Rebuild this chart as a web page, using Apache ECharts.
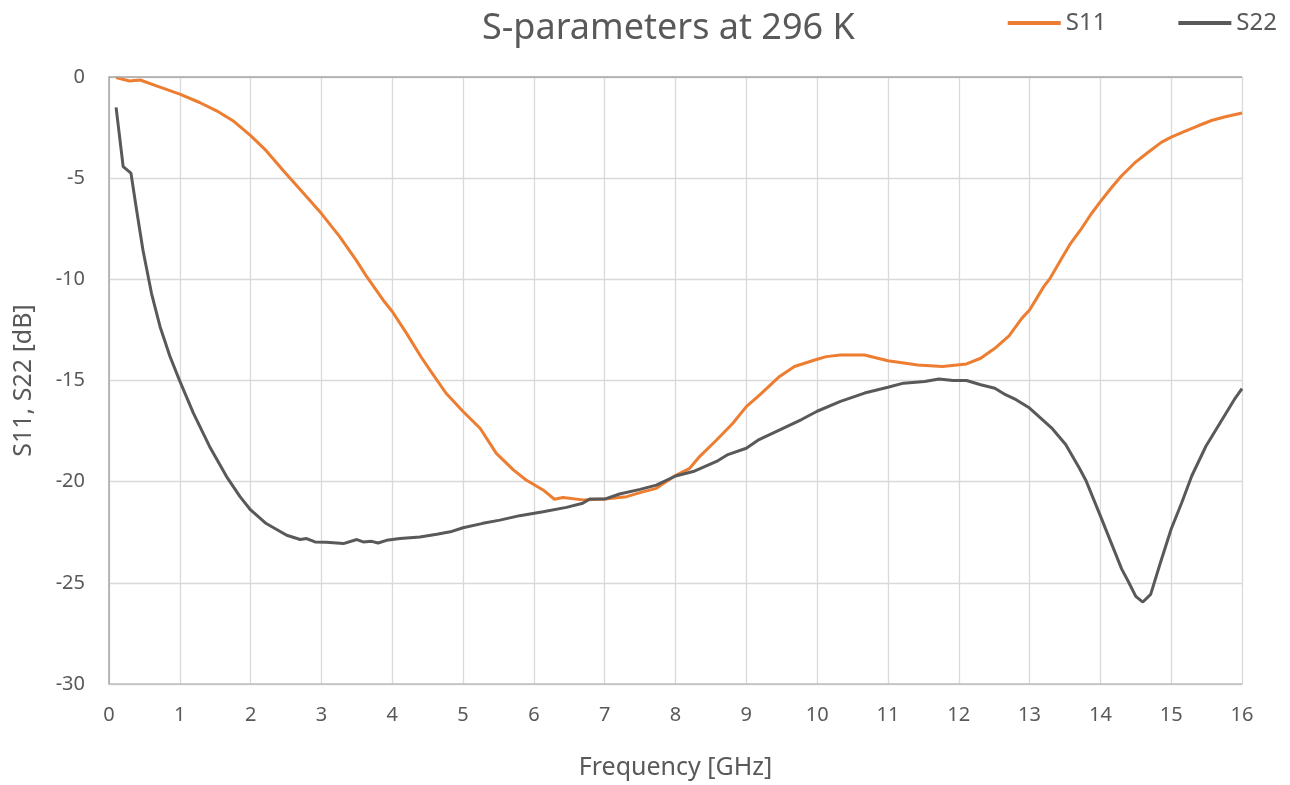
<!DOCTYPE html>
<html>
<head>
<meta charset="utf-8">
<script src="https://cdn.jsdelivr.net/npm/echarts@6/dist/echarts.min.js"></script>
<style>html,body{margin:0;padding:0;background:#fff}#c{width:1290px;height:785px}</style>
</head>
<body>
<div id="c"></div>
<script>
const s11Freq = [0.1,0.29,0.44,0.67,1.0,1.28,1.52,1.75,2.0,2.22,2.46,2.69,3.0,3.26,3.49,3.64,3.87,4.0,4.2,4.41,4.53,4.76,5.0,5.24,5.47,5.71,5.89,6.13,6.29,6.41,6.69,7.0,7.31,7.5,7.73,8.0,8.2,8.34,8.58,8.81,9.0,9.19,9.47,9.68,10.0,10.13,10.33,10.67,11.0,11.42,11.77,12.11,12.31,12.51,12.71,12.89,13.0,13.1,13.2,13.29,13.44,13.58,13.72,13.86,14.0,14.15,14.29,14.48,14.67,14.86,15.0,15.19,15.38,15.57,15.75,16.0];
const s11Val = [-0.03,-0.2,-0.15,-0.44,-0.85,-1.26,-1.67,-2.16,-2.9,-3.64,-4.62,-5.52,-6.75,-7.9,-9.05,-9.87,-11.02,-11.59,-12.66,-13.85,-14.47,-15.63,-16.53,-17.36,-18.6,-19.42,-19.92,-20.41,-20.87,-20.78,-20.9,-20.86,-20.74,-20.54,-20.33,-19.7,-19.34,-18.76,-17.94,-17.11,-16.29,-15.71,-14.8,-14.31,-13.95,-13.82,-13.74,-13.74,-14.02,-14.23,-14.31,-14.18,-13.9,-13.41,-12.8,-11.93,-11.52,-10.94,-10.36,-9.95,-9.04,-8.22,-7.56,-6.82,-6.16,-5.5,-4.92,-4.26,-3.73,-3.23,-2.97,-2.69,-2.41,-2.15,-1.98,-1.78];
const s22Freq = [0.1,0.2,0.31,0.39,0.48,0.6,0.72,0.86,1.0,1.19,1.42,1.66,1.85,2.0,2.22,2.51,2.7,2.79,2.91,3.07,3.31,3.5,3.59,3.71,3.8,3.92,4.11,4.39,4.63,4.82,5.0,5.28,5.52,5.8,6.13,6.46,6.69,6.79,7.0,7.21,7.5,7.73,8.0,8.25,8.58,8.74,9.0,9.18,9.48,9.78,10.0,10.33,10.67,11.0,11.22,11.52,11.72,11.92,12.11,12.31,12.51,12.66,12.81,13.0,13.31,13.51,13.7,13.8,14.0,14.15,14.3,14.4,14.5,14.6,14.71,14.85,15.0,15.15,15.29,15.49,15.69,15.89,16.0];
const s22Val = [-1.5,-4.43,-4.75,-6.59,-8.56,-10.69,-12.33,-13.8,-15.03,-16.6,-18.26,-19.75,-20.74,-21.4,-22.07,-22.65,-22.86,-22.81,-22.98,-23.0,-23.06,-22.86,-22.98,-22.95,-23.03,-22.9,-22.81,-22.73,-22.6,-22.48,-22.28,-22.06,-21.9,-21.68,-21.49,-21.27,-21.07,-20.86,-20.86,-20.61,-20.38,-20.17,-19.72,-19.5,-19.0,-18.66,-18.35,-17.92,-17.43,-16.93,-16.52,-16.03,-15.62,-15.33,-15.13,-15.05,-14.93,-15.0,-15.0,-15.21,-15.38,-15.7,-15.95,-16.36,-17.34,-18.16,-19.31,-19.97,-21.69,-23.0,-24.31,-24.97,-25.67,-25.95,-25.57,-23.98,-22.34,-21.03,-19.72,-18.25,-17.1,-15.95,-15.4];

const titleText = 'S-parameters at 296 K';
const xName = 'Frequency [GHz]';
const yName = 'S11, S22 [dB]';
const seriesNames = ['S11', 'S22'];

const pair = (xs, ys) => xs.map((x, i) => [x, ys[i]]);
const FONT = 'Noto Sans';
const TXT = '#595959';

const chart = echarts.init(document.getElementById('c'), null, {renderer: 'canvas'});
chart.setOption({
  animation: false,
  backgroundColor: '#ffffff',
  textStyle: {fontFamily: FONT, color: TXT},
  title: {
    text: titleText, left: 477, top: 6,
    textStyle: {fontFamily: FONT, fontSize: 36, fontWeight: 'normal', color: TXT}
  },
  legend: {
    right: 8, top: 6, itemGap: 72, itemWidth: 53, itemHeight: 4,
    icon: 'rect',
    textStyle: {fontFamily: FONT, fontSize: 24, color: TXT},
    data: seriesNames
  },
  grid: {left: 109, right: 48, top: 77, bottom: 100, containLabel: false},
  xAxis: {
    type: 'value', min: 0, max: 16, interval: 1,
    name: xName, nameLocation: 'middle', nameGap: 71,
    nameTextStyle: {fontFamily: FONT, fontSize: 25, color: TXT},
    axisLine: {onZero: false, lineStyle: {color: '#bfbfbf', width: 1.5}},
    axisTick: {show: false},
    axisLabel: {fontFamily: FONT, fontSize: 20, color: TXT, margin: 21},
    splitLine: {show: true, lineStyle: {color: '#d9d9d9', width: 1.3}}
  },
  yAxis: {
    type: 'value', min: -30, max: 0, interval: 5,
    name: yName, nameLocation: 'middle', nameGap: 73, nameRotate: 90,
    nameTextStyle: {fontFamily: FONT, fontSize: 25, color: TXT},
    axisLine: {show: true, onZero: false, lineStyle: {color: '#a6a6a6', width: 1.5}},
    axisTick: {show: false},
    axisLabel: {fontFamily: FONT, fontSize: 20, color: TXT, margin: 24},
    splitLine: {show: true, lineStyle: {color: '#d9d9d9', width: 1.3}}
  },
  series: [
    {
      name: seriesNames[0], type: 'line', data: pair(s11Freq, s11Val),
      showSymbol: false, symbol: 'none', smooth: false,
      lineStyle: {color: '#ED7D31', width: 3}, itemStyle: {color: '#ED7D31'},
      markLine: {
        silent: true, symbol: 'none', label: {show: false},
        lineStyle: {color: '#a6a6a6', width: 1.5, type: 'solid'},
        data: [{yAxis: 0}]
      },
      z: 3
    },
    {
      name: seriesNames[1], type: 'line', data: pair(s22Freq, s22Val),
      showSymbol: false, symbol: 'none', smooth: false,
      lineStyle: {color: '#595959', width: 3}, itemStyle: {color: '#595959'},
      z: 4
    }
  ]
});
</script>
</body>
</html>
